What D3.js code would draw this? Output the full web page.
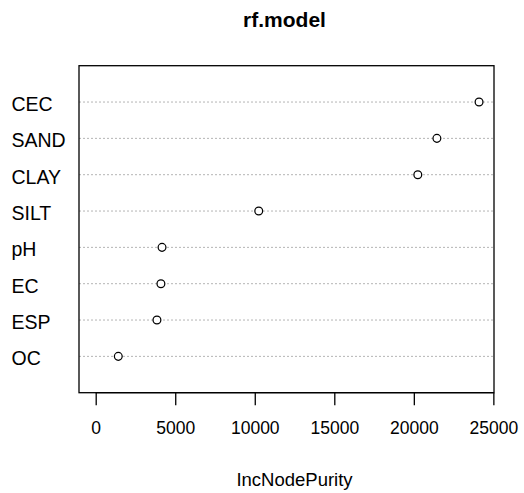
<!DOCTYPE html>
<html>
<head>
<meta charset="utf-8">
<script src="https://cdn.jsdelivr.net/npm/d3@7"></script>
<style>
  body { margin: 0; background: #fff; }
  text { font-family: "Liberation Sans", Arial, sans-serif; fill: #000; }
</style>
</head>
<body>
<div id="box-div"></div>
<script>
// variables, top to bottom
const variables = ['CEC', 'SAND', 'CLAY', 'SILT', 'pH', 'EC', 'ESP', 'OC']
const purity = [24100, 21450, 20250, 10250, 4170, 4100, 3850, 1420]
const xTicks = [0, 5000, 10000, 15000, 20000, 25000]

const dms = {
    width: 524,
    height: 493,
    left: 79,
    right: 494,
    top: 65.7,
    bottom: 392.7
}

const svg = d3.select('#box-div').append('svg')
    .attr('width', dms.width)
    .attr('height', dms.height)

// x scale: 0 -> 95.7, 25000 -> 493.3
const xScale = d3.scaleLinear()
    .domain([-1050, 25040])
    .range([dms.left, dms.right])

const yScale = d3.scalePoint()
    .domain(variables)
    .range([dms.top, dms.bottom])
    .padding(1)

const rows = variables.map((v, i) => ({ name: v, value: purity[i] }))

// dotted grid lines
svg.append('g')
    .selectAll('line')
    .data(rows)
    .join('line')
    .attr('x1', dms.left)
    .attr('x2', dms.right)
    .attr('y1', d => yScale(d.name))
    .attr('y2', d => yScale(d.name))
    .attr('stroke', '#b4b4b4')
    .attr('stroke-width', 1)
    .attr('stroke-dasharray', '2,2')

// points
svg.append('g')
    .selectAll('circle')
    .data(rows)
    .join('circle')
    .attr('cx', d => xScale(d.value))
    .attr('cy', d => yScale(d.name))
    .attr('r', 3.9)
    .attr('fill', '#fff')
    .attr('stroke', '#000')
    .attr('stroke-width', 1.25)

// plot box
svg.append('rect')
    .attr('x', dms.left)
    .attr('y', dms.top)
    .attr('width', dms.right - dms.left)
    .attr('height', dms.bottom - dms.top)
    .attr('fill', 'none')
    .attr('stroke', '#000')
    .attr('stroke-width', 1.3)

// row labels (left aligned like dotchart)
svg.append('g')
    .selectAll('text')
    .data(rows)
    .join('text')
    .attr('x', 11.5)
    .attr('y', d => yScale(d.name) + 9)
    .style('font-size', '19.5px')
    .text(d => d.name)

// x axis
const xAxis = svg.append('g')
    .attr('transform', `translate(0, ${dms.bottom})`)
    .call(d3.axisBottom(xScale)
        .tickValues(xTicks)
        .tickSize(12.5)
        .tickPadding(16)
        .tickFormat(d3.format('d')))
xAxis.select('.domain')
    .attr('d', `M${xScale(0)},0H${xScale(25000)}`)
    .attr('stroke-width', 1.3)
xAxis.selectAll('.tick line').attr('stroke-width', 1.3)
xAxis.selectAll('.tick text')
    .style('font-size', '17.5px')
    .style('font-family', '"Liberation Sans", Arial, sans-serif')

svg.append('text')
    .attr('x', (xScale(0) + xScale(25000)) / 2)
    .attr('y', 486)
    .attr('text-anchor', 'middle')
    .style('font-size', '18.5px')
    .text('IncNodePurity')

svg.append('text')
    .attr('x', (xScale(0) + xScale(25000)) / 2 - 10)
    .attr('y', 26.5)
    .attr('text-anchor', 'middle')
    .style('font-size', '21px')
    .style('font-weight', 'bold')
    .text('rf.model')
</script>
</body>
</html>
